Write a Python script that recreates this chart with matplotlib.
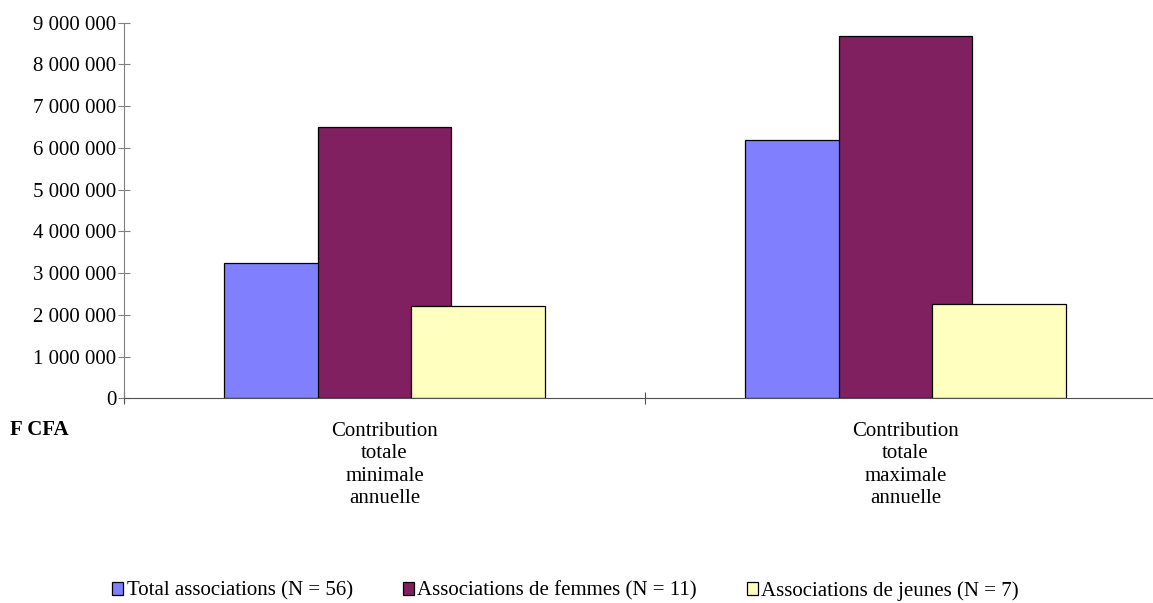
import matplotlib
matplotlib.use("Agg")
from matplotlib import pyplot as plt

categories = ["Contribution\ntotale\nminimale\nannuelle",
              "Contribution\ntotale\nmaximale\nannuelle"]
series_names = ["Total associations (N = 56)",
                "Associations de femmes (N = 11)",
                "Associations de jeunes (N = 7)"]
total_assoc = [3230000, 6200000]
femmes = [6500000, 8680000]
jeunes = [2200000, 2270000]
y_ticks = [0, 1000000, 2000000, 3000000, 4000000, 5000000,
           6000000, 7000000, 8000000, 9000000]
y_tick_labels = ["0", "1 000 000", "2 000 000", "3 000 000", "4 000 000",
                 "5 000 000", "6 000 000", "7 000 000", "8 000 000", "9 000 000"]

colors = ["#8080FF", "#802060", "#FFFFC0"]

plt.rcParams["font.family"] = ["Liberation Serif", "DejaVu Serif"]
plt.rcParams["font.size"] = 15

fig = plt.figure(figsize=(11.53, 6.03), dpi=100)
ax = fig.add_axes([0.10755, 0.3395, 0.9037, 0.6229])

width = 0.257
offsets = [-0.18, 0.0, 0.18]
centers = [0.5, 1.5]
handles = []
for vals, off, col, name in zip([total_assoc, femmes, jeunes], offsets, colors, series_names):
    b = ax.bar([c + off for c in centers], vals, width=width, color=col,
               edgecolor="black", linewidth=0.9, label=name)
    handles.append(b)

ax.set_xlim(0, 2)
ax.set_ylim(0, 9000000)
ax.set_yticks(y_ticks)
ax.set_yticklabels(y_tick_labels)
ax.set_xticks([0, 1, 2])
ax.set_xticklabels(["", "", ""])
ax.set_xticks(centers, minor=True)
ax.set_xticklabels(categories, minor=True, linespacing=1.25)

for s in ["top", "right"]:
    ax.spines[s].set_visible(False)
ax.spines["left"].set_color("#808080")
ax.spines["bottom"].set_color("#505050")
ax.tick_params(axis="y", direction="inout", length=9, color="#808080", pad=1)
ax.tick_params(axis="x", which="major", direction="inout", length=9, color="#505050")
ax.tick_params(axis="x", which="minor", length=0, pad=17)

fig.text(0.009, 0.287, "F CFA", fontweight="bold", ha="left", va="center")

fig.legend(handles=handles, loc="center", bbox_to_anchor=(0.4905, 0.02),
           ncol=3, frameon=False, handlelength=0.55, handleheight=0.55,
           handletextpad=0.15, columnspacing=2.4, borderaxespad=0)

fig.savefig("out.png", dpi=100)
